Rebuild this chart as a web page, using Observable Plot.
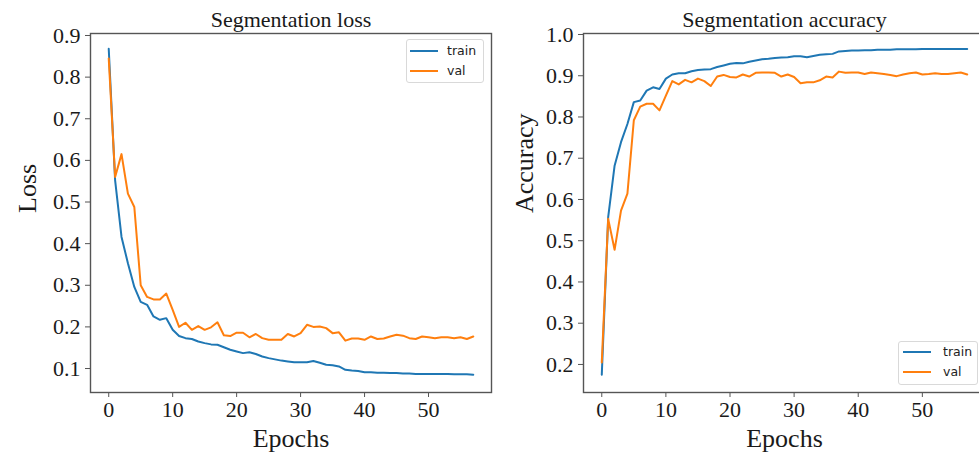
<!DOCTYPE html>
<html>
<head>
<meta charset="utf-8">
<script src="https://cdn.jsdelivr.net/npm/d3@7"></script>
<script src="https://cdn.jsdelivr.net/npm/@observablehq/plot@0.6"></script>
<style>
  html, body { margin: 0; padding: 0; background: #fff; }
  #wrap { position: relative; width: 979px; height: 457px; overflow: hidden; background: #fff; }
  .panel { position: absolute; top: 0; }
  .panel text { font-family: "Liberation Serif", "Times New Roman", serif; }
  .legend { position: absolute; border: 1px solid #d9d9d9; border-radius: 3px; background: rgba(255,255,255,0.8);
            font-family: "DejaVu Sans", sans-serif; font-size: 12.5px; color: #222; box-sizing: border-box; }
  .legend .sw { position: absolute; width: 28px; height: 0; border-top: 2px solid; }
  .legend .lb { position: absolute; white-space: nowrap; line-height: 16px; }
</style>
</head>
<body>
<div id="wrap"></div>
<script>
// ---- data ----
const epochs = d3.range(58);
const xTicks = [0, 10, 20, 30, 40, 50];
const lossTicks = [0.1, 0.2, 0.3, 0.4, 0.5, 0.6, 0.7, 0.8, 0.9];
const accTicks = [0.2, 0.3, 0.4, 0.5, 0.6, 0.7, 0.8, 0.9, 1.0];
const seriesNames = ["train", "val"];
const seriesColors = ["#1f77b4", "#ff7f0e"];

const lossTrain = [0.868,0.552,0.416,0.353,0.296,0.260,0.253,0.225,0.217,0.221,
  0.193,0.178,0.173,0.171,0.165,0.161,0.158,0.157,0.151,0.145,
  0.141,0.137,0.139,0.135,0.129,0.125,0.122,0.119,0.117,0.115,
  0.115,0.115,0.118,0.114,0.109,0.108,0.105,0.097,0.095,0.094,
  0.091,0.091,0.090,0.090,0.089,0.089,0.088,0.088,0.087,0.087,
  0.087,0.087,0.087,0.087,0.086,0.086,0.086,0.085];
const lossVal = [0.845,0.560,0.615,0.520,0.488,0.300,0.272,0.266,0.266,0.280,
  0.241,0.200,0.210,0.193,0.202,0.193,0.199,0.211,0.180,0.178,
  0.186,0.186,0.175,0.183,0.173,0.169,0.169,0.169,0.183,0.177,
  0.185,0.205,0.200,0.201,0.197,0.185,0.187,0.167,0.172,0.172,
  0.169,0.177,0.171,0.172,0.177,0.181,0.179,0.173,0.171,0.177,
  0.175,0.173,0.175,0.175,0.173,0.175,0.171,0.177];
const accTrain = [0.175,0.557,0.682,0.739,0.783,0.836,0.840,0.864,0.872,0.868,
  0.893,0.903,0.906,0.906,0.911,0.914,0.915,0.916,0.921,0.925,
  0.929,0.931,0.930,0.934,0.937,0.940,0.941,0.943,0.944,0.945,
  0.947,0.947,0.945,0.948,0.951,0.952,0.953,0.959,0.960,0.961,
  0.961,0.962,0.962,0.963,0.963,0.963,0.964,0.964,0.964,0.964,
  0.965,0.965,0.965,0.965,0.965,0.965,0.965,0.965];
const accVal = [0.205,0.553,0.478,0.573,0.614,0.792,0.825,0.832,0.832,0.816,
  0.852,0.887,0.879,0.890,0.884,0.893,0.887,0.875,0.898,0.902,
  0.897,0.896,0.903,0.898,0.907,0.908,0.908,0.907,0.898,0.903,
  0.897,0.882,0.884,0.884,0.889,0.898,0.896,0.910,0.907,0.908,
  0.908,0.904,0.908,0.906,0.904,0.902,0.899,0.903,0.906,0.908,
  0.903,0.904,0.906,0.904,0.904,0.906,0.908,0.903];

const serif = "'Liberation Serif', 'Times New Roman', serif";

function panel({title, ylabel, yDomain, yTicks, train, val, width, marginLeft, marginRight, ylabelDx}) {
  const rows = epochs.flatMap((e, i) => [
    {epoch: e, value: train[i], series: "train"},
    {epoch: e, value: val[i], series: "val"}
  ]);
  return Plot.plot({
    width, height: 457,
    marginLeft, marginRight, marginTop: 33, marginBottom: 65,
    style: {fontFamily: serif, fontSize: "22px", color: "#1a1a1a", background: "transparent", overflow: "visible"},
    x: {domain: [-2.85, 59.85]},
    y: {domain: yDomain},
    color: {domain: seriesNames, range: seriesColors},
    marks: [
      Plot.axisX({ticks: xTicks, tickSize: 5, tickPadding: 4, fontSize: 22, fontFamily: serif, stroke: "#555", fill: "#1a1a1a", label: null}),
      Plot.axisY({ticks: yTicks, tickFormat: d3.format(".1f"), tickSize: 5, tickPadding: 5, fontSize: 22, fontFamily: serif, stroke: "#555", fill: "#1a1a1a", label: null}),
      Plot.line(rows, {x: "epoch", y: "value", z: "series", stroke: "series", strokeWidth: 2, strokeLinejoin: "round"}),
      Plot.frame({stroke: "#555", strokeWidth: 1.4}),
      Plot.text([title], {frameAnchor: "top", dy: -14, fontSize: 22, fontFamily: serif, lineAnchor: "middle", fill: "#1a1a1a"}),
      Plot.text(["Epochs"], {frameAnchor: "bottom", dy: 46, fontSize: 26, fontFamily: serif, lineAnchor: "middle", fill: "#1a1a1a"}),
      Plot.text([ylabel], {frameAnchor: "left", dx: ylabelDx, rotate: -90, fontSize: 26, fontFamily: serif, lineAnchor: "middle", fill: "#1a1a1a"})
    ]
  });
}

const wrap = document.getElementById("wrap");

const left = panel({title: "Segmentation loss", ylabel: "Loss", yDomain: [0.0424, 0.9048], yTicks: lossTicks,
  train: lossTrain, val: lossVal, width: 500, marginLeft: 90, marginRight: 9, ylabelDx: -63});
left.classList.add("panel"); left.style.left = "0px";
wrap.appendChild(left);

const right = panel({title: "Segmentation accuracy", ylabel: "Accuracy", yDomain: [0.132, 1.0024], yTicks: accTicks,
  train: accTrain, val: accVal, width: 500, marginLeft: 83, marginRight: 15, ylabelDx: -59});
right.classList.add("panel"); right.style.left = "500px";
wrap.appendChild(right);

function legend(x, y, w, h, lineX, textX, rowYs) {
  const box = document.createElement("div");
  box.className = "legend";
  Object.assign(box.style, {left: x + "px", top: y + "px", width: w + "px", height: h + "px"});
  seriesNames.forEach((name, i) => {
    const sw = document.createElement("div");
    sw.className = "sw";
    Object.assign(sw.style, {left: (lineX - x - 1) + "px", top: (rowYs[i] - y - 2) + "px", borderTopColor: seriesColors[i]});
    const lb = document.createElement("div");
    lb.className = "lb";
    lb.textContent = name;
    Object.assign(lb.style, {left: (textX - x - 1) + "px", top: (rowYs[i] - y - 9) + "px"});
    box.appendChild(sw); box.appendChild(lb);
  });
  wrap.appendChild(box);
}
legend(406, 39, 78, 44, 410, 447, [51, 71]);
legend(898, 341, 80, 44, 903, 943, [352, 372]);
</script>
</body>
</html>
